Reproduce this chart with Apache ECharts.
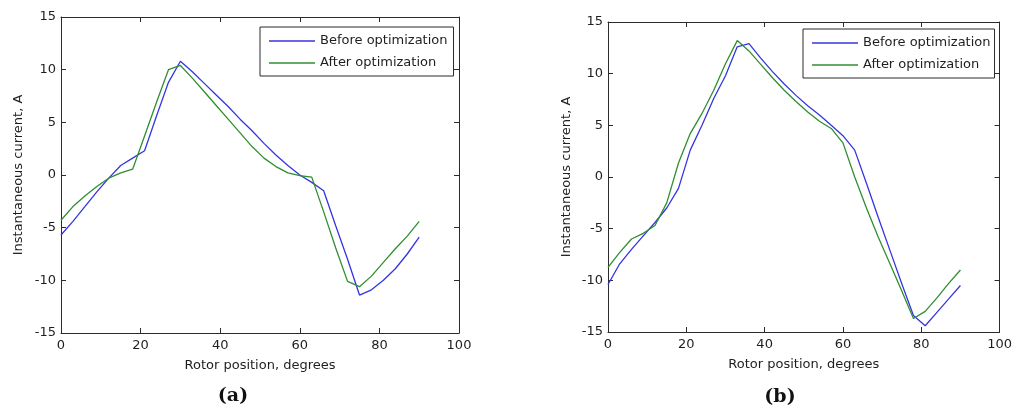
<!DOCTYPE html>
<html lang="en">
<head>
    <meta charset="UTF-8">
    <title>Instantaneous current vs rotor position</title>
    <script src="https://cdn.jsdelivr.net/npm/echarts@6.0.0/dist/echarts.min.js"></script>
    <style>
        html, body { margin: 0; padding: 0; background: #fff; }
        #container { width: 1015px; height: 412px; }
    </style>
</head>
<body>
<div id="container"></div>
<script type="text/javascript">
    // rotor position samples, degrees
    var rotorDeg = [0, 3, 6, 9, 12, 15, 18, 21, 24, 27, 30, 33, 36, 39, 42, 45,
        48, 51, 54, 57, 60, 63, 66, 69, 72, 75, 78, 81, 84, 87, 90];

    // (a) current, A
    var aBefore = [-5.7, -4.4, -3.0, -1.6, -0.3, 0.9, 1.6, 2.3, 5.6, 8.8, 10.8, 9.8, 8.7, 7.6, 6.5, 5.3,
        4.2, 3.0, 1.9, 0.9, 0.0, -0.7, -1.5, -4.8, -8.0, -11.4, -10.9, -10.0, -8.9, -7.5, -5.9];
    var aAfter = [-4.3, -3.0, -2.0, -1.1, -0.3, 0.2, 0.55, 3.7, 6.9, 10.0, 10.4, 9.2, 7.9, 6.6, 5.3, 4.0,
        2.7, 1.6, 0.8, 0.2, -0.05, -0.2, -3.5, -6.9, -10.1, -10.6, -9.6, -8.3, -7.0, -5.8, -4.4];

    // (b) current, A
    var bBefore = [-10.4, -8.4, -7.0, -5.7, -4.4, -3.0, -1.1, 2.6, 5.0, 7.6, 9.8, 12.6, 12.9, 11.5, 10.2, 9.0,
        7.9, 6.9, 6.0, 5.0, 4.0, 2.6, -0.6, -3.9, -7.1, -10.3, -13.4, -14.4, -13.1, -11.8, -10.5];
    var bAfter = [-8.75, -7.3, -6.0, -5.45, -4.7, -2.5, 1.35, 4.2, 6.15, 8.4, 10.96, 13.2, 12.2, 10.9, 9.6, 8.4,
        7.3, 6.3, 5.4, 4.7, 3.3, 0.0, -3.0, -5.8, -8.4, -11.0, -13.7, -13.0, -11.7, -10.3, -9.0];

    var seriesNames = ['Before optimization', 'After optimization'];
    var xTicks = {min: 0, max: 100, interval: 20};
    var yTicks = {min: -15, max: 15, interval: 5};

    var FONT = 'DejaVu Sans';
    var TEXT_COLOR = '#1e1e1e';
    var AXIS_COLOR = '#2b2b2b';

    function pairs(ys) {
        return rotorDeg.map(function (d, i) { return [d, ys[i]]; });
    }

    function xAxis(grid, pos, withLabels) {
        return {
            type: 'value', gridIndex: grid, position: pos,
            min: xTicks.min, max: xTicks.max, interval: xTicks.interval,
            name: withLabels ? 'Rotor position, degrees' : '',
            nameLocation: 'middle', nameGap: 26,
            nameTextStyle: {fontFamily: FONT, fontSize: 13, color: TEXT_COLOR},
            axisLine: {show: true, onZero: false, lineStyle: {color: AXIS_COLOR, width: 1}},
            axisTick: {show: true, inside: true, length: 5, lineStyle: {color: AXIS_COLOR}},
            axisLabel: {show: withLabels, margin: 6, fontFamily: FONT, fontSize: 13, color: TEXT_COLOR},
            splitLine: {show: false}
        };
    }

    function yAxis(grid, pos, withLabels, gap) {
        return {
            type: 'value', gridIndex: grid, position: pos,
            min: yTicks.min, max: yTicks.max, interval: yTicks.interval,
            name: withLabels ? 'Instantaneous current, A' : '',
            nameLocation: 'middle', nameGap: gap,
            nameTextStyle: {fontFamily: FONT, fontSize: 13, color: TEXT_COLOR},
            axisLine: {show: true, onZero: false, lineStyle: {color: AXIS_COLOR, width: 1}},
            axisTick: {show: true, inside: true, length: 5, lineStyle: {color: AXIS_COLOR}},
            axisLabel: {show: withLabels, margin: 5, fontFamily: FONT, fontSize: 13, color: TEXT_COLOR},
            splitLine: {show: false}
        };
    }

    function legend(left, top, padRight) {
        return {
            orient: 'vertical', left: left, top: top,
            data: seriesNames,
            icon: 'rect', itemWidth: 46, itemHeight: 1.5, itemGap: 8,
            padding: [7, padRight, 6, 9],
            backgroundColor: '#fff', borderColor: AXIS_COLOR, borderWidth: 1,
            textStyle: {fontFamily: FONT, fontSize: 13, color: TEXT_COLOR, lineHeight: 14},
            selectedMode: false
        };
    }

    function line(name, x, y, ys, color) {
        return {
            name: name, type: 'line', xAxisIndex: x, yAxisIndex: y,
            data: pairs(ys), symbol: 'none', showSymbol: false,
            color: color, lineStyle: {width: 1.3, color: color}, z: 3
        };
    }

    var BLUE = '#3535e0', GREEN = '#2f8f2f';

    var myChart = echarts.init(document.getElementById('container'), null, {renderer: 'canvas'});
    var option = {
        backgroundColor: '#fff',
        animation: false,
        grid: [
            {left: 61, top: 17, width: 398, height: 316},
            {left: 608, top: 22, width: 392, height: 310}
        ],
        xAxis: [
            xAxis(0, 'bottom', true), xAxis(0, 'top', false),
            xAxis(1, 'bottom', true), xAxis(1, 'top', false)
        ],
        yAxis: [
            yAxis(0, 'left', true, 36), yAxis(0, 'right', false, 0),
            yAxis(1, 'left', true, 35), yAxis(1, 'right', false, 0)
        ],
        legend: [legend(260, 27, 6), legend(803, 29, 4)],
        series: [
            line(seriesNames[0], 0, 0, aBefore, BLUE),
            line(seriesNames[1], 0, 0, aAfter, GREEN),
            line(seriesNames[0], 2, 2, bBefore, BLUE),
            line(seriesNames[1], 2, 2, bAfter, GREEN)
        ],
        graphic: [
            {type: 'text', x: 233, y: 396, style: {text: '(a)', font: 'bold 19px "DejaVu Serif"', fill: '#111', align: 'center', verticalAlign: 'middle'}},
            {type: 'text', x: 780, y: 397, style: {text: '(b)', font: 'bold 19px "DejaVu Serif"', fill: '#111', align: 'center', verticalAlign: 'middle'}}
        ]
    };
    myChart.setOption(option);
</script>
</body>
</html>
